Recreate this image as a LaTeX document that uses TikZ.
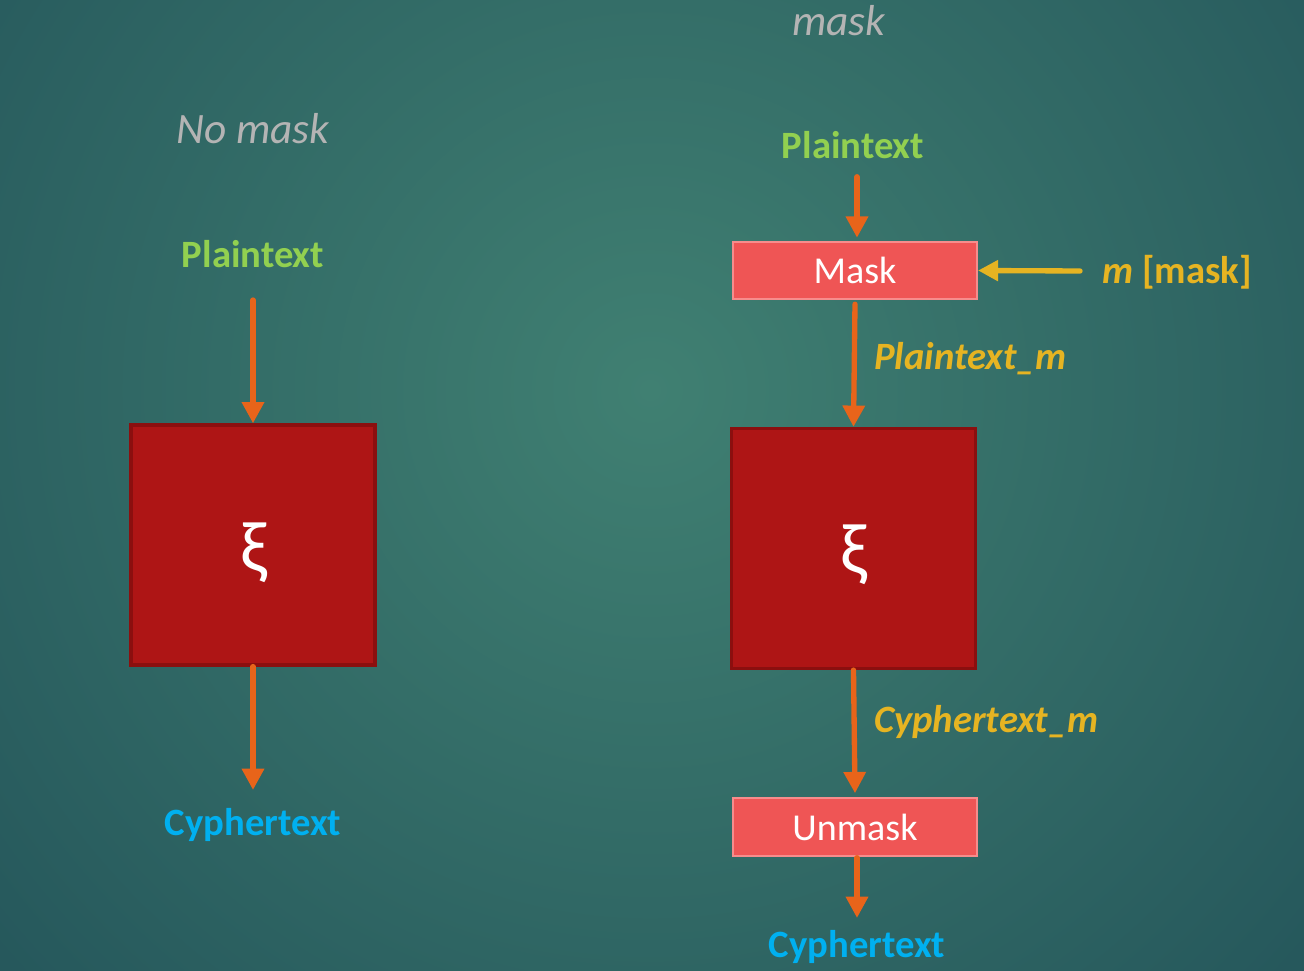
\documentclass[tikz,border=0pt]{standalone}
\usepackage{fontspec}
\setmainfont{Carlito}
\usetikzlibrary{arrows.meta,calc}
\definecolor{bgin}{RGB}{64,128,114}
\definecolor{bgout}{RGB}{26,70,82}
\definecolor{arrorange}{HTML}{E8641A}
\definecolor{lblgreen}{HTML}{92D050}
\definecolor{lblblue}{HTML}{00B0F0}
\definecolor{lblyellow}{HTML}{E6B422}
\definecolor{lblgray}{RGB}{180,180,180}
\definecolor{xifill}{HTML}{AE1515}
\definecolor{xiborder}{HTML}{8B0F0F}
\definecolor{mfill}{HTML}{EF5555}
\definecolor{mborder}{HTML}{F78C8C}
\tikzset{
  title/.style={text=lblgray,font=\fontsize{32.5}{36}\selectfont\itshape,inner sep=0pt,anchor=base},
  plainlbl/.style={text=lblgreen,font=\fontsize{29}{32}\selectfont\bfseries,inner sep=0pt,anchor=base},
  cypherlbl/.style={text=lblblue,font=\fontsize{29}{32}\selectfont\bfseries,inner sep=0pt,anchor=base},
  midlbl/.style={text=lblyellow,font=\fontsize{29}{32}\selectfont\bfseries\itshape,inner sep=0pt,anchor=base west},
  xibox/.style={draw=xiborder,fill=xifill,line width=2.4pt,minimum width=183pt,minimum height=180pt,inner sep=0pt},
  xisym/.style={text=white,font=\fontsize{54}{58}\selectfont,inner sep=0pt},
  maskbox/.style={draw=mborder,fill=mfill,line width=1.6pt,minimum width=183pt,minimum height=43pt,inner sep=0pt,text=white,font=\fontsize{28.5}{32}\selectfont},
  flow/.style={draw=arrorange,line width=4pt,line cap=round,-{Triangle[length=16pt,width=16pt]}},
  keyflow/.style={draw=lblyellow,line width=4pt,line cap=round,-{Triangle[length=15pt,width=15pt]}}
}
\begin{document}
\begin{tikzpicture}[x=0.75pt,y=-0.75pt]
\useasboundingbox (0,0) rectangle (1304,971);
\begin{scope}
\clip (0,0) rectangle (1304,971);
\fill[bgout] (0,0) rectangle (1304,971);
\shade[inner color=bgin,outer color=bgout] (650,390) circle (1250);
\end{scope}
% titles
\node[title] (t1) at (253,143) {No mask};
\node[title] (t2) at (839,35) {mask};
% left column
\node[plainlbl] (pl1) at (253,267) {Plaintext};
\node[xibox] (xi1) at (253,545) {};
\node[xisym] (s1) at (254,553) {ξ};
\node[cypherlbl] (ct1) at (253,835) {Cyphertext};
\draw[flow] ($(pl1.base)+(0,33)$) -- (xi1.north);
\draw[flow] (xi1.south) -- ($(ct1.base)+(0,-45)$);
% right column
\node[plainlbl] (pl2) at (853,158) {Plaintext};
\node[maskbox] (mk) at (855,270.5) {Mask};
\node[xibox] (xi2) at (853.5,548.5) {};
\node[xisym] (s2) at (854,555) {ξ};
\node[maskbox] (um) at (855,827) {Unmask};
\node[cypherlbl] (ct2) at (857,957) {Cyphertext};
\node[midlbl] (pm) at (874,369) {Plaintext\_m};
\node[midlbl] (cm) at (874,732) {Cyphertext\_m};
\node[text=lblyellow,font=\fontsize{29}{32}\selectfont\bfseries,inner sep=0pt,anchor=base west] (ml) at (1102,283) {\textit{m} [mask]};
\draw[flow] ($(mk.north)+(2,-64)$) -- ($(mk.north)+(2,-3)$);
\draw[flow] ($(mk.south)+(0,4)$) -- (xi2.north);
\draw[flow] (xi2.south) -- ($(um.north)+(0,-4)$);
\draw[flow] ($(um.south)+(2,1)$) -- ($(ct2.base)+(0,-39)$);
\draw[keyflow] ($(ml.base west)+(-22,-12)$) -- (mk.east);
\end{tikzpicture}
\end{document}
